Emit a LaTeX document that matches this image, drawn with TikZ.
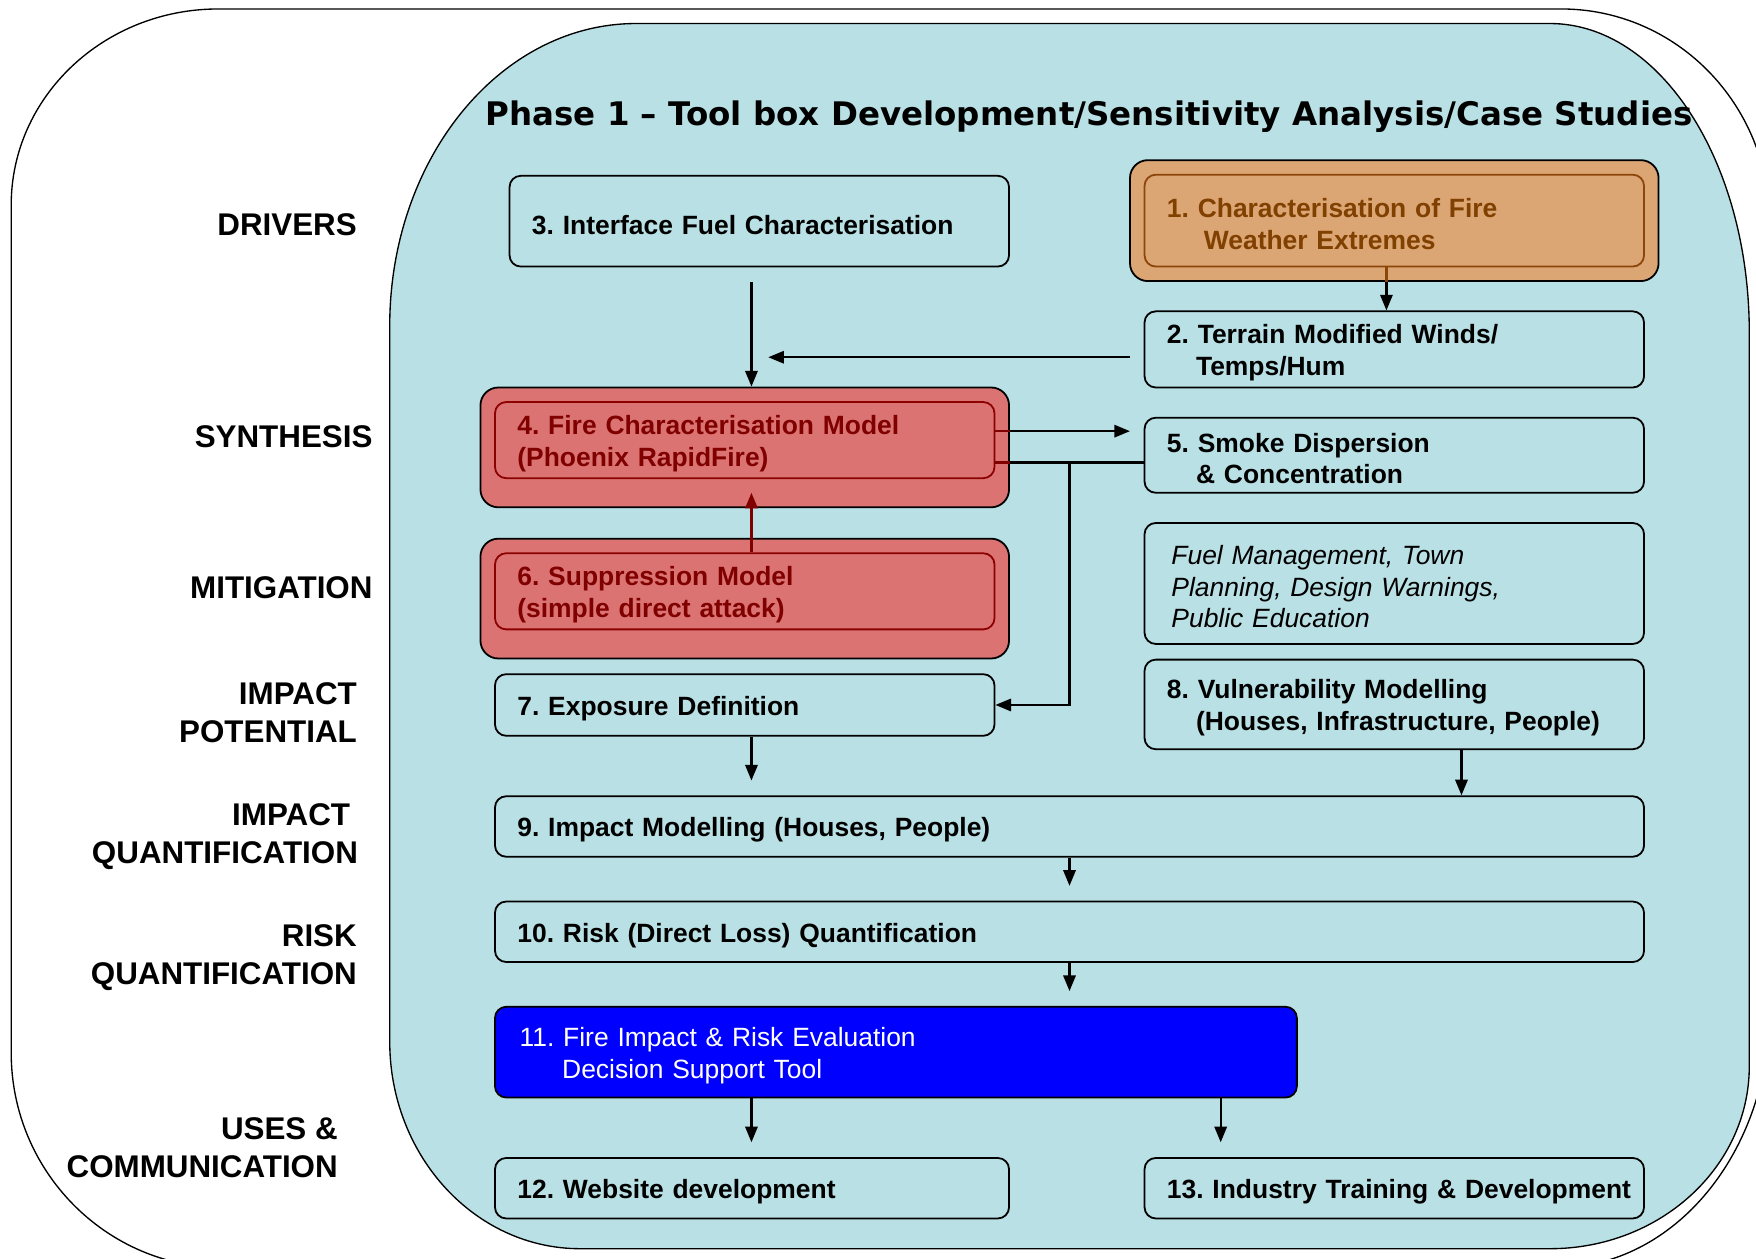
\documentclass[tikz,border=0pt]{standalone}
\usepackage{fontspec}
\setmainfont{Liberation Sans}
\newfontfamily\headfont{DejaVu Sans}
\usetikzlibrary{arrows.meta,calc}
\frenchspacing

\definecolor{panel}{RGB}{185,224,228}
\definecolor{orangebox}{RGB}{220,165,116}
\definecolor{orangeline}{RGB}{140,70,10}
\definecolor{orangetext}{RGB}{128,64,0}
\definecolor{redbox}{RGB}{220,115,115}
\definecolor{redline}{RGB}{140,0,0}
\definecolor{redtext}{RGB}{128,0,0}

\begin{document}
\begin{tikzpicture}[x=0.5pt,y=-0.5pt,
		box/.style={draw,line width=0.8pt,rounded corners=5pt,align=left,inner xsep=10pt,inner ysep=0pt,font=\fontsize{11.8}{14}\selectfont\bfseries,execute at begin node={\vrule width 0pt height 11.6pt\relax}},
		shell/.style={draw,line width=0.8pt,rounded corners=8pt,inner sep=0pt,minimum width=236pt,minimum height=54pt},
		lab/.style={anchor=east,align=right,inner sep=0pt,font=\fontsize{14}{17}\selectfont\bfseries},
		arr/.style={line width=1pt,-{Triangle[length=7pt,width=5.5pt]}}]

			\useasboundingbox (0,0) rectangle (1568,1124);
			\clip (0,0) rectangle (1568,1124);

			% outer frame and phase panel
			\draw[line width=0.6pt,fill=white] (10,183) arc[start angle=180,end angle=270,x radius=185,y radius=175] -- (1394,8) arc[start angle=270,end angle=360,x radius=186,y radius=190] -- (1580,902) arc[start angle=0,end angle=90,x radius=190,y radius=230] -- (200,1132) arc[start angle=90,end angle=180,x radius=190,y radius=192] -- cycle;
			\draw[line width=0.6pt,fill=panel] (348,291) arc[start angle=180,end angle=270,x radius=220,y radius=270] -- (1384,21) arc[start angle=270,end angle=360,x radius=178,y radius=276] -- (1562,952) arc[start angle=0,end angle=90,x radius=178,y radius=163] -- (518,1115) arc[start angle=90,end angle=180,x radius=170,y radius=185] -- cycle;

			\node[font=\fontsize{14.5}{16}\headfont\bfseries] (title) at (972.5,104) {Phase 1 – Tool box Development/Sensitivity Analysis/Case Studies};

			% row labels
			\node[lab] (drivers) at (319,201) {DRIVERS};
			\node[lab] (synth) at (333,390) {SYNTHESIS};
			\node[lab] (mitig) at (333,525) {MITIGATION};
			\node[lab] (impot) at (319,636) {IMPACT\\POTENTIAL};
			\node[lab] (imquant) at (320,747) {IMPACT\hspace*{3.5pt}\\QUANTIFICATION};
			\node[lab] (riskq) at (319,855) {RISK\\QUANTIFICATION};
			\node[lab] (uses) at (302,1025) {USES \&\\COMMUNICATION};

			% boxes
			\node[box,text width=203pt,minimum height=40.5pt] (b3) at (678,197.5) {3. Interface Fuel Characterisation};
			\node[shell,fill=orangebox] (b1o) at (1245,197) {};
			\node[box,draw=orangeline,text=orangetext,text width=203pt,minimum height=41pt] (b1) at (1245,197) {1. Characterisation of Fire\\\hspace*{16.5pt}Weather Extremes};
			\node[box,text width=203pt,minimum height=34pt] (b2) at (1245,312) {2. Terrain Modified Winds/\\\hspace*{13pt}Temps/Hum};
			\node[shell,fill=redbox,minimum height=53.5pt] (b4o) at (665,399.5) {};
			\node[box,draw=redline,text=redtext,text width=203pt,minimum height=34pt] (b4) at (665,393) {4. Fire Characterisation Model\\(Phoenix RapidFire)};
			\node[box,text width=203pt,minimum height=33.5pt] (b5) at (1245,406.5) {5. Smoke Dispersion\\\hspace*{13pt}\& Concentration};
			\node[shell,fill=redbox,minimum height=53.5pt] (b6o) at (665,534.5) {};
			\node[box,draw=redline,text=redtext,text width=203pt,minimum height=34pt] (b6) at (665,528) {6. Suppression Model\\(simple direct attack)};
			\node[box,inner xsep=12pt,text width=199pt,minimum height=54pt,font=\fontsize{11.8}{14}\selectfont\itshape] (mitbox) at (1245,521) {Fuel Management, Town\\Planning, Design Warnings,\\Public Education};
			\node[box,text width=203pt,minimum height=27.5pt] (b7) at (665,629.5) {7. Exposure Definition};
			\node[box,text width=203pt,minimum height=40pt] (b8) at (1245,629) {8. Vulnerability Modelling\\\hspace*{13pt}(Houses, Infrastructure, People)};
			\node[box,text width=493pt,minimum height=27pt] (b9) at (955,738) {9. Impact Modelling (Houses, People)};
			\node[box,text width=493pt,minimum height=27pt] (b10) at (955,832) {10. Risk (Direct Loss) Quantification};
			\node[box,fill=blue,text=white,inner xsep=11pt,text width=336pt,minimum height=40.5pt,font=\fontsize{11.8}{14}\selectfont] (b11) at (800,939.5) {11. Fire Impact \& Risk Evaluation\\\hspace*{19pt}Decision Support Tool};
			\node[box,text width=209.5pt,minimum height=27pt] (b12) at (671.5,1061) {12. Website development};
			\node[box,text width=203pt,minimum height=27pt] (b13) at (1245,1061) {\mbox{13. Industry Training \& Development}};

			% connectors
			\coordinate (a3) at (671,252);
			\draw[arr] (a3) -- (a3 |- b4o.north);
			\draw[arr] ([xshift=-3.5pt]b1.south) -- ([xshift=-3.5pt]b2.north);
			\draw[line width=1pt,orangeline] ([xshift=-3.5pt]b1.south) -- ([xshift=-3.5pt]b1o.south);
			\coordinate (w2) at (1009,319);
			\coordinate (w4) at (686,319);
			\draw[arr] (w2) -- (w4);
			\coordinate (e5) at (1009,385);
			\draw[arr] (b4.east |- e5) -- (e5);
			\draw[line width=1pt,redtext] (b4.east |- e5) -- (b4o.east |- e5);
			\coordinate (j5) at (955,413);
			\draw[line width=1pt] (b4.east |- j5) -- (b5.west |- j5);
			\draw[line width=1pt,redtext] (b4.east |- j5) -- (b4o.east |- j5);
			\draw[arr] (j5) |- (b7.east);
			\coordinate (t4) at (671,440);
			\draw[arr,redtext] (t4 |- b6.north) -- (t4);
			\coordinate (d7) at (671,697);
			\draw[arr] (d7 |- b7.south) -- (d7);
			\draw[arr] ([xshift=30pt]b8.south) -- ([xshift=30pt]b8.south |- b9.north);
			\coordinate (d9) at (955,791);
			\draw[arr] (b9.south) -- (d9);
			\coordinate (d10) at (955,885);
			\draw[arr] (b10.south) -- (d10);
			\coordinate (d12) at (671,1020);
			\coordinate (d13) at (1090,1020);
			\draw[arr] (d12 |- b11.south) -- (d12);
			\draw[arr] (d13 |- b11.south) -- (d13);

		\end{tikzpicture}
\end{document}
